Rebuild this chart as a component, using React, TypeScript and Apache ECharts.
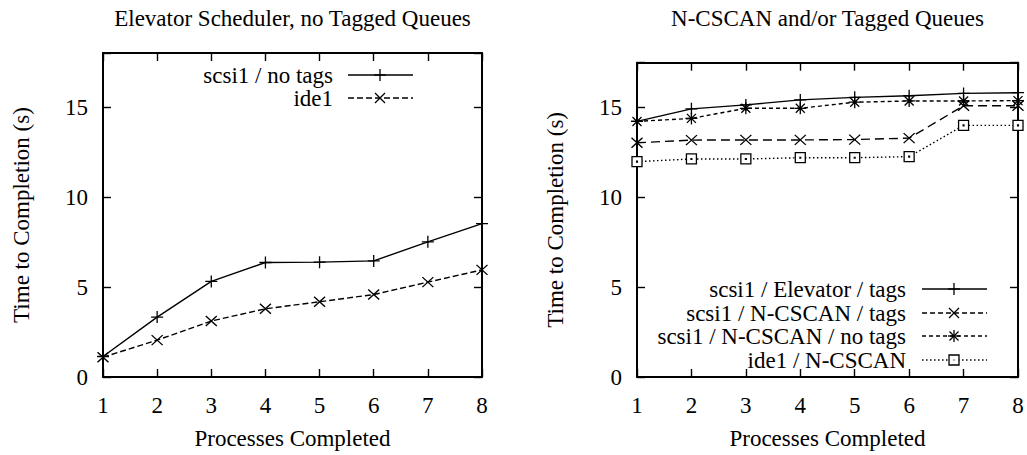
import React, { useEffect, useRef } from "react";
import * as echarts from "echarts";

const processes = [1, 2, 3, 4, 5, 6, 7, 8];
const yTicks = [0, 5, 10, 15];

const leftTitle = "Elevator Scheduler, no Tagged Queues";
const rightTitle = "N-CSCAN and/or Tagged Queues";
const xName = "Processes Completed";
const yName = "Time to Completion (s)";

const leftNames = ["scsi1 / no tags", "ide1"];
const leftScsi = [1.14, 3.33, 5.31, 6.36, 6.38, 6.45, 7.51, 8.52];
const leftIde = [1.1, 2.05, 3.11, 3.79, 4.18, 4.58, 5.27, 5.95];

const rightNames = [
  "scsi1 / Elevator / tags",
  "scsi1 / N-CSCAN / tags",
  "scsi1 / N-CSCAN / no tags",
  "ide1 / N-CSCAN",
];
const rElevTags = [14.23, 14.93, 15.15, 15.43, 15.57, 15.66, 15.79, 15.83];
const rNcscanTags = [13.04, 13.19, 13.2, 13.2, 13.22, 13.3, 15.1, 15.1];
const rNcscanNoTags = [14.23, 14.4, 14.96, 14.96, 15.3, 15.37, 15.37, 15.39];
const rIdeNcscan = [11.99, 12.14, 12.14, 12.21, 12.21, 12.27, 14.01, 14.01];

const FONT = "'Liberation Serif', 'Times New Roman', serif";
const FS = 23;

const SYM: Record<string, { path: string; size: number | number[]; fill: string }> = {
  plus: { path: "path://M6,0L6,12M0,6L12,6", size: 12, fill: "transparent" },
  cross: { path: "path://M0,0L10,10M10,0L0,10", size: [11, 10], fill: "transparent" },
  star: {
    path: "path://M6,0L6,12M0,6L12,6M1.5,1.5L10.5,10.5M10.5,1.5L1.5,10.5",
    size: 12,
    fill: "transparent",
  },
  square: {
    path: "path://M0,0L10,0L10,10L0,10ZM4.6,4.6L5.4,4.6L5.4,5.4L4.6,5.4Z",
    size: 10,
    fill: "#fff",
  },
};

function makeSeries(
  name: string,
  values: number[],
  axisIdx: number,
  sym: string,
  dash: number[] | "solid"
) {
  const s = SYM[sym];
  return {
    type: "line",
    name,
    xAxisIndex: axisIdx,
    yAxisIndex: axisIdx,
    data: processes.map((p, i) => [p, values[i]]),
    symbol: s.path,
    symbolSize: s.size,
    showSymbol: true,
    silent: true,
    lineStyle: { color: "#000", width: 1.4, type: dash },
    itemStyle: { color: s.fill, borderColor: "#000", borderWidth: 1.3 },
    emphasis: { disabled: true },
  };
}

function markerEls(kind: string, cx: number, cy: number): any[] {
  const st = { stroke: "#000", lineWidth: 1.3, fill: "none" };
  const ln = (x1: number, y1: number, x2: number, y2: number) => ({
    type: "line",
    shape: { x1, y1, x2, y2 },
    style: st,
    silent: true,
  });
  if (kind === "plus") return [ln(cx - 6, cy, cx + 6, cy), ln(cx, cy - 6, cx, cy + 6)];
  if (kind === "cross")
    return [ln(cx - 5, cy - 5, cx + 5, cy + 5), ln(cx - 5, cy + 5, cx + 5, cy - 5)];
  if (kind === "star")
    return [
      ln(cx - 6, cy, cx + 6, cy),
      ln(cx, cy - 6, cx, cy + 6),
      ln(cx - 4.5, cy - 4.5, cx + 4.5, cy + 4.5),
      ln(cx - 4.5, cy + 4.5, cx + 4.5, cy - 4.5),
    ];
  return [
    {
      type: "rect",
      shape: { x: cx - 5, y: cy - 5, width: 10, height: 10 },
      style: { stroke: "#000", lineWidth: 1.3, fill: "#fff" },
      silent: true,
    },
    {
      type: "rect",
      shape: { x: cx - 0.6, y: cy - 0.6, width: 1.2, height: 1.2 },
      style: { fill: "#000" },
      silent: true,
    },
  ];
}

function legendRow(
  label: string,
  textRight: number,
  x1: number,
  x2: number,
  mx: number,
  y: number,
  kind: string,
  dash: number[] | null
): any[] {
  return [
    {
      type: "text",
      x: textRight,
      y,
      silent: true,
      style: {
        text: label,
        fontFamily: FONT,
        fontSize: FS,
        fill: "#000",
        align: "right",
        verticalAlign: "middle",
      },
    },
    {
      type: "line",
      shape: { x1, y1: y, x2, y2: y },
      silent: true,
      style: { stroke: "#000", lineWidth: 1.4, lineDash: dash || undefined },
    },
    ...markerEls(kind, mx, y),
  ];
}

function axesFor(gridIndex: number, ymax: number) {
  const line = { show: true, onZero: false, lineStyle: { color: "#000", width: 2 } };
  const tick = { show: true, inside: true, length: 8, lineStyle: { color: "#000", width: 1.4 } };
  const lab = { fontFamily: FONT, fontSize: FS, color: "#000", fontWeight: "normal" };
  const xb = {
    type: "value",
    gridIndex,
    position: "bottom",
    min: 1,
    max: 8,
    interval: 1,
    axisLine: line,
    axisTick: tick,
    splitLine: { show: false },
    axisLabel: { ...lab, margin: 17 },
    name: xName,
    nameLocation: "middle",
    nameGap: 50,
    nameTextStyle: { ...lab },
  };
  const xt = {
    type: "value",
    gridIndex,
    position: "top",
    min: 1,
    max: 8,
    interval: 1,
    axisLine: line,
    axisTick: tick,
    splitLine: { show: false },
    axisLabel: { show: false },
  };
  const yl = {
    type: "value",
    gridIndex,
    position: "left",
    min: 0,
    max: ymax,
    interval: 5,
    axisLine: line,
    axisTick: tick,
    splitLine: { show: false },
    axisLabel: {
      ...lab,
      margin: 15,
      formatter: (v: number) => (yTicks.indexOf(v) >= 0 ? String(v) : ""),
    },
    name: yName,
    nameLocation: "middle",
    nameGap: 70,
    nameRotate: 90,
    nameTextStyle: { ...lab },
  };
  const yr = {
    type: "value",
    gridIndex,
    position: "right",
    min: 0,
    max: ymax,
    interval: 5,
    axisLine: line,
    axisTick: tick,
    splitLine: { show: false },
    axisLabel: { show: false },
  };
  return { x: [xb, xt], y: [yl, yr] };
}

export default function App() {
  const ref = useRef<HTMLDivElement>(null);
  useEffect(() => {
    if (!ref.current) return;
    const chart = echarts.init(ref.current, null, { renderer: "svg" });
    const a0 = axesFor(0, 18);
    const a1 = axesFor(1, 17.5);
    const titleStyle = (text: string, x: number) => ({
      type: "text",
      x,
      y: 18,
      silent: true,
      style: {
        text,
        fontFamily: FONT,
        fontSize: FS,
        fill: "#000",
        align: "center",
        verticalAlign: "middle",
      },
    });
    const rightRowsY = [289, 313, 336, 360];
    const rightKinds = ["plus", "cross", "star", "square"];
    const rightDash: (number[] | null)[] = [null, [5, 3], [4, 3], [1.5, 2.5]];
    const option: any = {
      animation: false,
      backgroundColor: "#fff",
      textStyle: { fontFamily: FONT, fontSize: FS, color: "#000" },
      grid: [
        { left: 103, top: 53, width: 379, height: 327, containLabel: false },
        { left: 637, top: 62.7, width: 381, height: 317.3, containLabel: false },
      ],
      xAxis: [...a0.x, ...a1.x],
      yAxis: [...a0.y, ...a1.y],
      series: [
        makeSeries(leftNames[0], leftScsi, 0, "plus", "solid"),
        makeSeries(leftNames[1], leftIde, 0, "cross", [6, 3]),
        makeSeries(rightNames[0], rElevTags, 2, "plus", "solid"),
        makeSeries(rightNames[1], rNcscanTags, 2, "cross", [9, 5]),
        makeSeries(rightNames[2], rNcscanNoTags, 2, "star", [4, 3]),
        makeSeries(rightNames[3], rIdeNcscan, 2, "square", [1.5, 2.5]),
      ],
      graphic: [
        titleStyle(leftTitle, 292.5),
        titleStyle(rightTitle, 827.5),
        ...legendRow(leftNames[0], 333, 348, 413, 380, 75, "plus", null),
        ...legendRow(leftNames[1], 333, 348, 413, 380, 98, "cross", [6, 3]),
        ...rightNames.flatMap((n, i) =>
          legendRow(n, 906, 922, 987, 954, rightRowsY[i], rightKinds[i], rightDash[i])
        ),
      ],
    };
    chart.setOption(option);
    return () => chart.dispose();
  }, []);
  return (
    <div
      ref={ref}
      style={{ position: "absolute", left: 0, top: 0, width: 1027, height: 455, background: "#fff" }}
    />
  );
}
